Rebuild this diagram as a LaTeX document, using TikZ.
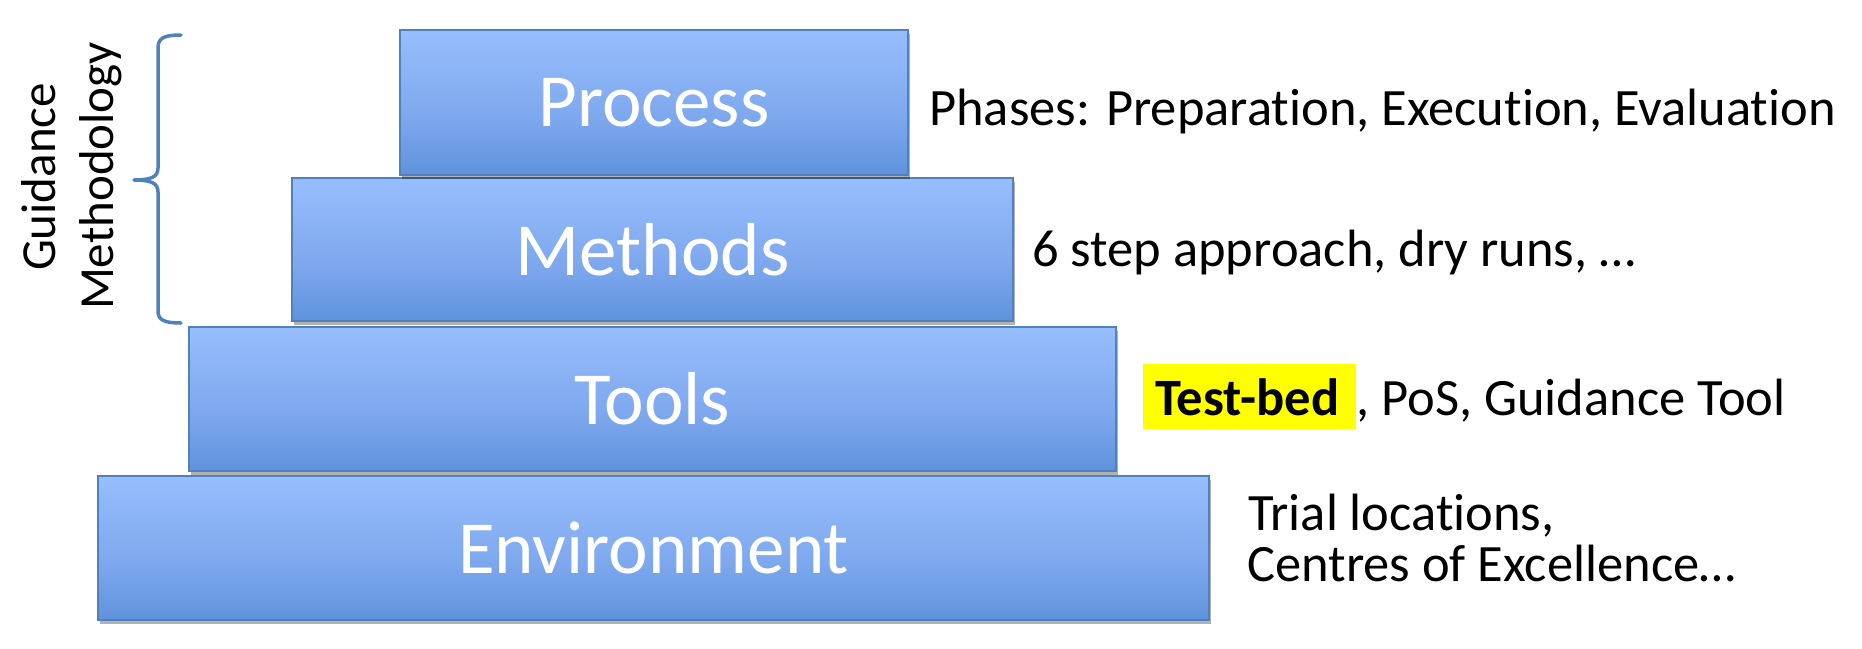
\documentclass[tikz,border=0pt]{standalone}
\usepackage{fontspec}
\setmainfont{Carlito}[Ligatures={NoCommon}]
\usetikzlibrary{shadows}
\definecolor{boxtop}{RGB}{155,193,255}
\definecolor{boxmid}{RGB}{126,168,238}
\definecolor{boxbot}{RGB}{66,125,204}
\definecolor{boxline}{RGB}{79,129,189}
\definecolor{hlyellow}{RGB}{255,255,0}
\pgfdeclareverticalshading{boxshade}{100bp}{color(0bp)=(boxbot); color(6bp)=(boxbot); color(45bp)=(boxmid); color(80bp)=(boxtop); color(100bp)=(boxtop)}
\tikzset{
  tier/.style={rectangle, draw=boxline, line width=2pt, shading=boxshade, inner sep=0pt,
    text=white, font=\fontsize{75}{75}\selectfont,
    drop shadow={shadow xshift=1.5pt, shadow yshift=-4pt, fill=black, opacity=0.3}},
  note/.style={inner sep=0pt, anchor=base west, font=\fontsize{52.5}{52.5}\selectfont, text=black},
  side/.style={inner sep=0pt, anchor=base, rotate=90, font=\fontsize{49}{49}\selectfont, text=black},
  bracestyle/.style={draw=boxline, line width=3.5pt, line cap=round, line join=round}
}
\begin{document}
\begin{tikzpicture}[x=1pt,y=1pt]
\useasboundingbox (0,0) rectangle (1862,-648);
% tiers (bottom first)
\node[tier, minimum width=1111pt, minimum height=144pt] (env) at (653.5,-548) {Environment};
\node[tier, minimum width=927pt, minimum height=144pt] (tools) at (652.5,-399) {Tools};
\node[tier, minimum width=721pt, minimum height=143pt] (methods) at (652.5,-249.5) {Methods};
\node[tier, minimum width=508pt, minimum height=145pt] (process) at (654,-102.5) {Process};
% right-hand notes
\node[note] (phases) at (929,-125) {Phases: Preparation, Execution, Evaluation};
\node[note] (steps) at (1032,-266) {6 step approach, dry runs, …};
\node[fill=hlyellow, inner sep=0pt, minimum width=213pt, minimum height=65pt] (hl) at (1249.5,-396.5) {};
\node[note, font=\fontsize{52.5}{52.5}\selectfont\bfseries] (testbed) at (1155,-415) {Test-bed};
\node[note] (toolsnote) at (1356,-415) {, PoS, Guidance Tool};
\node[note] (trial) at (1248,-530) {Trial locations,};
\node[note] (centres) at (1247,-581) {Centres of Excellence…};
% left side label
\node[side] (guid) at (55,-177) {Guidance};
\node[side] (meth) at (113,-176) {Methodology};
% brace
\coordinate (bt) at (181,-35);
\coordinate (bm) at (134,-180);
\coordinate (bb) at (181,-323);
\draw[bracestyle] (bt) .. controls (164,-35) and (158,-38) .. (158,-48)
  -- (158,-168) .. controls (158,-177) and (151,-180) .. (bm)
  .. controls (151,-180) and (158,-183) .. (158,-192)
  -- (158,-311) .. controls (158,-320) and (164,-323) .. (bb);
\end{tikzpicture}
\end{document}
